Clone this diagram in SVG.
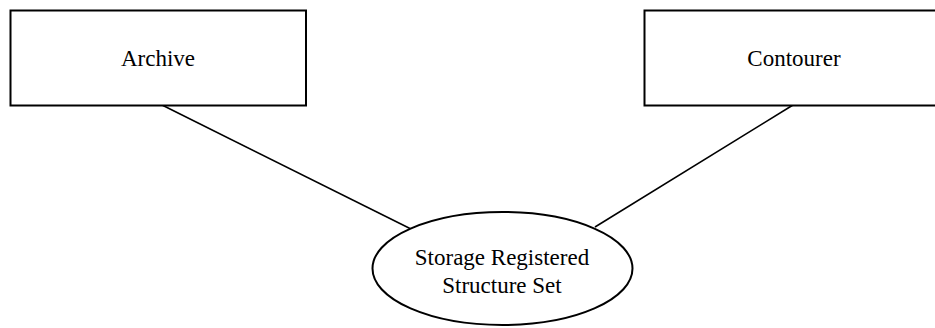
<svg xmlns="http://www.w3.org/2000/svg" width="935" height="328" viewBox="0 0 935 328">
<style>
.box{fill:#fff;stroke:#000;stroke-width:2}
.conn{stroke:#000;stroke-width:1.6;fill:none}
.lbl{font-family:"Liberation Serif","Times New Roman",serif;font-size:23px;fill:#000;text-anchor:middle}
</style>
<rect width="935" height="328" fill="#fff"/>
<g id="connectors">
<line class="conn" x1="162" y1="105" x2="411" y2="229"/>
<line class="conn" x1="793" y1="105" x2="595" y2="227"/>
</g>
<g id="archive">
<rect class="box" x="10.5" y="10.5" width="295.5" height="95"/>
<text class="lbl" x="158" y="66">Archive</text>
</g>
<g id="contourer">
<rect class="box" x="644.5" y="10.5" width="297" height="95"/>
<text class="lbl" x="794" y="66">Contourer</text>
</g>
<g id="storage">
<ellipse class="box" cx="502.5" cy="268.5" rx="130" ry="56.5"/>
<text class="lbl" x="502" y="265">Storage Registered</text>
<text class="lbl" x="502" y="293">Structure Set</text>
</g>
</svg>
